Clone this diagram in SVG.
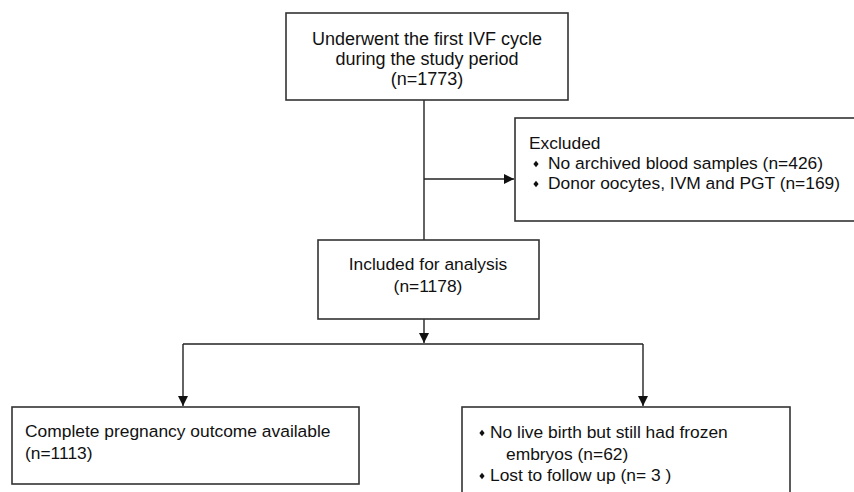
<svg xmlns="http://www.w3.org/2000/svg" width="854" height="492" viewBox="0 0 854 492">
<style>
.box{fill:#fff;stroke:#333;stroke-width:1.6}
.ln{fill:none;stroke:#222;stroke-width:1.4}
text{font-family:"Liberation Sans",Arial,sans-serif;font-size:17.4px;fill:#111}
.c{text-anchor:middle}
.bul{fill:#111}
</style>
<defs>
<marker id="arr" markerWidth="10" markerHeight="10" refX="10" refY="5" orient="auto" markerUnits="userSpaceOnUse">
<path d="M0,0 L10,5 L0,10 Z" fill="#111"/>
</marker>
<path id="dia" d="M0,-3.2 L2.6,0 L0,3.2 L-2.6,0 Z"/>
</defs>
<rect width="854" height="492" fill="#fff"/>
<g id="connectors">
<line class="ln" x1="424" y1="100" x2="424" y2="240"/>
<line class="ln" x1="424" y1="179" x2="514" y2="179" marker-end="url(#arr)"/>
<line class="ln" x1="424" y1="319" x2="424" y2="343" marker-end="url(#arr)"/>
<polyline class="ln" points="183,344 643,344"/>
<line class="ln" x1="183" y1="344" x2="183" y2="406" marker-end="url(#arr)"/>
<line class="ln" x1="643" y1="344" x2="643" y2="406" marker-end="url(#arr)"/>
</g>
<g id="n-start">
<rect class="box" x="286" y="13" width="282" height="87"/>
<text class="c" x="427" y="45" style="font-size:18px">Underwent the first IVF cycle</text>
<text class="c" x="427" y="65" style="font-size:18px">during the study period</text>
<text class="c" x="427" y="85" style="font-size:18px">(n=1773)</text>
</g>
<g id="n-excluded">
<rect class="box" x="515" y="118" width="345" height="103"/>
<text x="529" y="149">Excluded</text>
<use href="#dia" class="bul" x="536" y="164"/>
<text x="548" y="169">No archived blood samples (n=426)</text>
<use href="#dia" class="bul" x="536" y="184"/>
<text x="548" y="189">Donor oocytes, IVM and PGT (n=169)</text>
</g>
<g id="n-included">
<rect class="box" x="318" y="240" width="221" height="79"/>
<text class="c" x="428" y="270">Included for analysis</text>
<text class="c" x="428" y="292">(n=1178)</text>
</g>
<g id="n-complete">
<rect class="box" x="12" y="407" width="347" height="77"/>
<text x="25" y="437">Complete pregnancy outcome available</text>
<text x="25" y="459">(n=1113)</text>
</g>
<g id="n-other">
<rect class="box" x="462" y="407" width="328" height="100"/>
<use href="#dia" class="bul" x="482" y="433"/>
<text x="490" y="438">No live birth but still had frozen</text>
<text x="506" y="460">embryos (n=62)</text>
<use href="#dia" class="bul" x="482" y="476"/>
<text x="490" y="481">Lost to follow up (n= 3 )</text>
</g>
</svg>
